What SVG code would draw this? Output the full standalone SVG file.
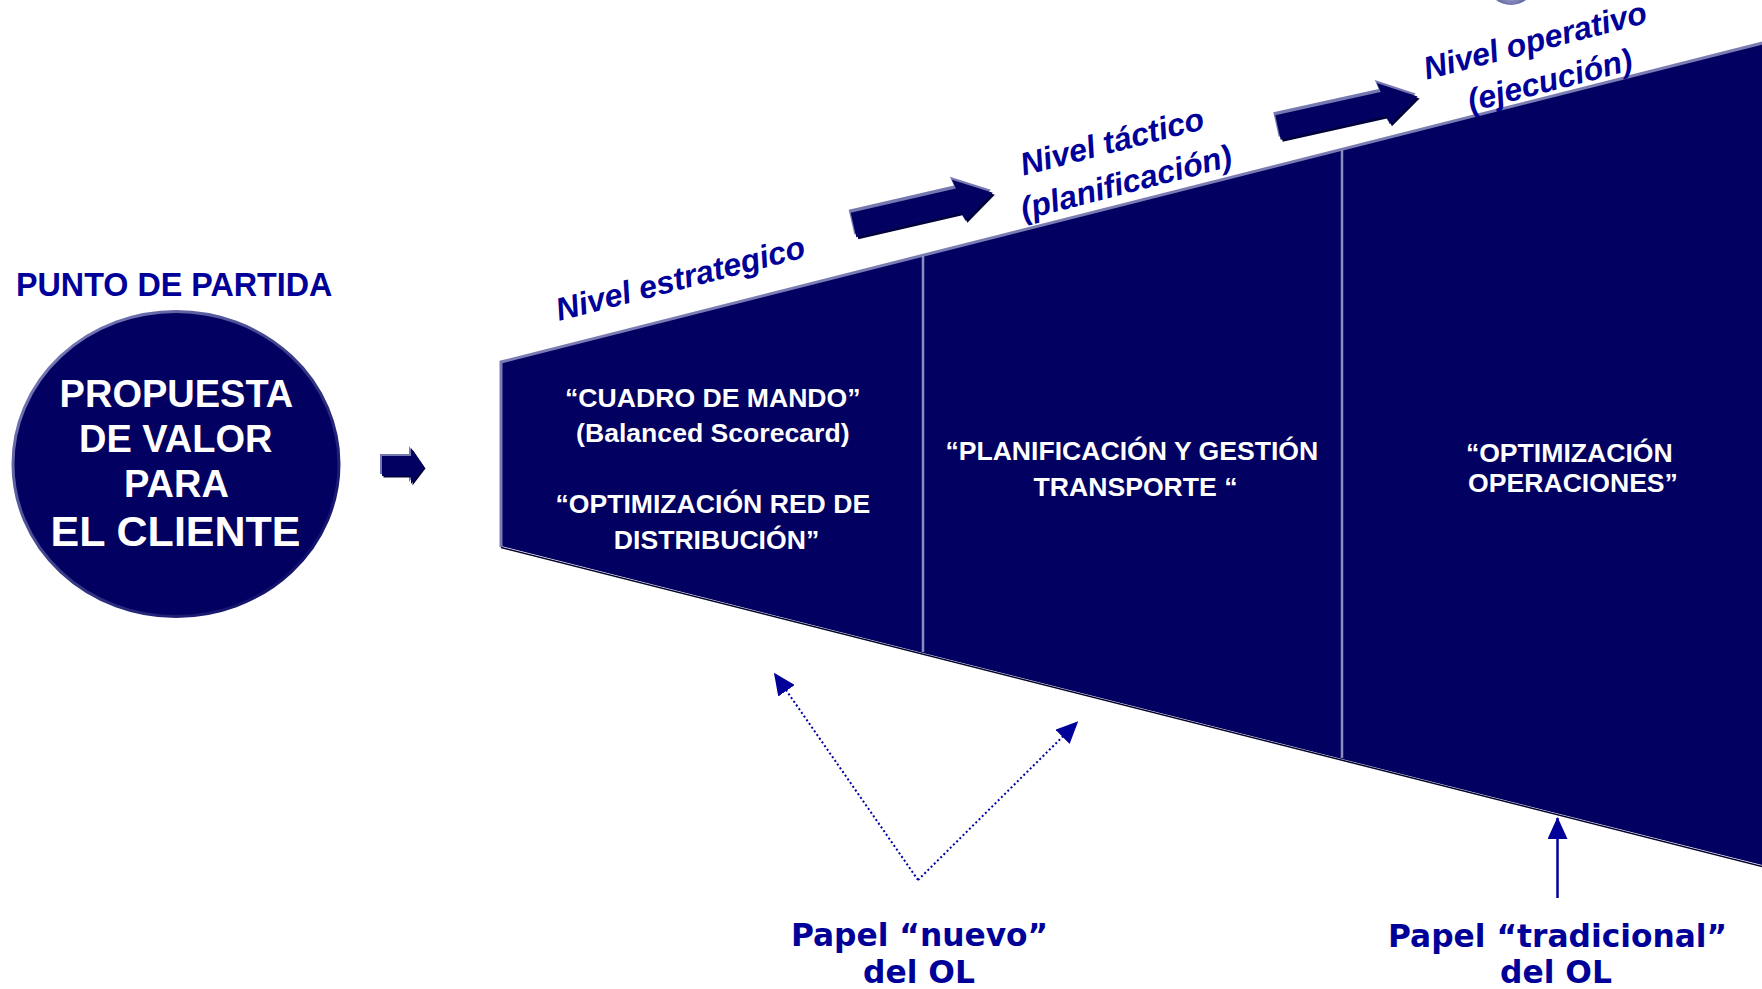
<svg xmlns="http://www.w3.org/2000/svg" xmlns:xlink="http://www.w3.org/1999/xlink" width="1762" height="989" viewBox="0 0 1762 989">
  <style>
    .navy { fill: #020060; }
    .rim { fill: #7678b2; }
    .shade { fill: #00003a; }
    .blue { fill: #000099; font-family: "Liberation Sans", Arial, sans-serif; font-weight: bold; }
    .level { font-size: 32px; font-style: italic; text-anchor: middle; }
    .white { fill: #ffffff; font-family: "Liberation Sans", Arial, sans-serif; font-weight: bold; text-anchor: middle; }
    .panel-text { font-size: 26.6px; }
    .role { fill: #000099; font-family: "DejaVu Sans", Verdana, sans-serif; font-weight: bold; font-size: 31.3px; text-anchor: middle; }
    .edge { fill: none; stroke: #7b7cb4; stroke-width: 3; }
    .divider { stroke: #8b8cc0; stroke-width: 2.5; }
    .dotted { fill: none; stroke: #0000a0; stroke-width: 2; stroke-dasharray: 2 2.5; }
    .solid { fill: none; stroke: #000099; stroke-width: 2.5; }
  </style>
  <defs>
    <!-- block arrow, tail at the origin, pointing along +x -->
    <path id="block-arrow" d="M0,-12.5 L108,-12.5 L106,-22 L143,0 L110,21 L108,12.5 L0,12.5 Z"/>
    <path id="small-arrow" d="M382,456 L411,456 L411,448 L424,467 L411,484 L411,476 L382,476 Z"/>
    <marker id="tri" markerUnits="userSpaceOnUse" markerWidth="22" markerHeight="20" refX="21" refY="10" orient="auto" viewBox="0 0 22 20">
      <path d="M0,0 L22,10 L0,20 Z" fill="#000099"/>
    </marker>
    <linearGradient id="circle-rim" x1="0" y1="0" x2="1" y2="1">
      <stop offset="0" stop-color="#8a8cc4"/>
      <stop offset="0.5" stop-color="#3a3c88"/>
      <stop offset="1" stop-color="#020060"/>
    </linearGradient>
    <radialGradient id="ball" cx="0.5" cy="0.7" r="0.6">
      <stop offset="0" stop-color="#b4b6dc"/>
      <stop offset="1" stop-color="#2a2c7a"/>
    </radialGradient>
  </defs>

  <rect width="1762" height="989" fill="#ffffff"/>

  <!-- sphere cut by the top border -->
  <ellipse cx="1511" cy="-14" rx="22" ry="19" fill="url(#ball)"/>

  <!-- starting point -->
  <g id="punto-de-partida">
    <text class="blue" x="16" y="296" font-size="32.3">PUNTO DE PARTIDA</text>
  </g>

  <g id="propuesta-valor">
    <ellipse cx="176" cy="464" rx="163" ry="152.5" class="navy" stroke="url(#circle-rim)" stroke-width="3"/>
    <text class="white" font-size="38">
      <tspan x="181" y="407">PROPUESTA</tspan>
      <tspan x="181" y="452">DE VALOR</tspan>
      <tspan x="181" y="497">PARA</tspan>
      <tspan x="175.5" y="546" font-size="43">EL CLIENTE</tspan>
    </text>
  </g>

  <g id="arrow-start">
    <use xlink:href="#small-arrow" class="rim" transform="translate(-2,-2)"/>
    <use xlink:href="#small-arrow" class="shade" transform="translate(1.5,1.5)"/>
    <use xlink:href="#small-arrow" class="navy"/>
  </g>

  <!-- widening funnel: three levels -->
  <g id="panel-estrategico">
    <polygon class="navy" points="501,362 923,255 923,653 501,546"/>
    <text class="white panel-text">
      <tspan x="716.5" y="407">“CUADRO DE MANDO”</tspan>
      <tspan x="716.5" y="442">(Balanced Scorecard)</tspan>
      <tspan x="716.5" y="513">“OPTIMIZACIÓN RED DE</tspan>
      <tspan x="716.5" y="549">DISTRIBUCIÓN”</tspan>
    </text>
  </g>

  <g id="panel-tactico">
    <polygon class="navy" points="923,255 1342,149 1342,759 923,653"/>
    <text class="white panel-text">
      <tspan x="1135.5" y="460">“PLANIFICACIÓN Y GESTIÓN</tspan>
      <tspan x="1135.5" y="496">TRANSPORTE “</tspan>
    </text>
  </g>

  <g id="panel-operativo">
    <polygon class="navy" points="1342,149 1790,36 1790,872 1342,759"/>
    <text class="white panel-text">
      <tspan x="1573" y="462">“OPTIMIZACIÓN</tspan>
      <tspan x="1573" y="492">OPERACIONES”</tspan>
    </text>
  </g>

  <g id="funnel-edges">
    <polyline class="edge" points="501,547 501,362 1790,36"/>
    <line class="divider" x1="923" y1="256" x2="923" y2="652"/>
    <line class="divider" x1="1342" y1="150" x2="1342" y2="758"/>
    <line x1="501" y1="547.5" x2="1790" y2="873.5" stroke="#00002e" stroke-width="1.5"/>
  </g>

  <!-- level labels along the top edge -->
  <g id="label-estrategico" transform="translate(683,289) rotate(-14.5)">
    <text class="blue level" x="0" y="0">Nivel estrategico</text>
  </g>

  <g id="label-tactico" transform="translate(1119,151) rotate(-14.5)">
    <text class="blue level">
      <tspan x="0" y="0">Nivel táctico</tspan>
      <tspan x="-1" y="43">(planificación)</tspan>
    </text>
  </g>

  <g id="label-operativo" transform="translate(1542,50) rotate(-14.5)">
    <text class="blue level">
      <tspan x="0" y="0">Nivel operativo</tspan>
      <tspan x="0" y="42">(ejecución)</tspan>
    </text>
  </g>

  <g id="arrow-tactico">
    <use xlink:href="#block-arrow" class="rim" transform="translate(851.5,222) rotate(-13)"/>
    <use xlink:href="#block-arrow" class="shade" transform="translate(855.5,227) rotate(-13)"/>
    <use xlink:href="#block-arrow" class="navy" transform="translate(853.5,225) rotate(-13)"/>
  </g>

  <g id="arrow-operativo">
    <use xlink:href="#block-arrow" class="rim" transform="translate(1276,124.5) rotate(-12.5)"/>
    <use xlink:href="#block-arrow" class="shade" transform="translate(1280,129.5) rotate(-12.5)"/>
    <use xlink:href="#block-arrow" class="navy" transform="translate(1278,127.5) rotate(-12.5)"/>
  </g>

  <!-- role annotations -->
  <g id="connectors">
    <line class="dotted" x1="918" y1="880" x2="774.5" y2="673.5" marker-end="url(#tri)"/>
    <line class="dotted" x1="918" y1="880" x2="1077.5" y2="722" marker-end="url(#tri)"/>
    <line class="solid" x1="1557.5" y1="898" x2="1557.5" y2="818" marker-end="url(#tri)"/>
  </g>

  <g id="papel-nuevo">
    <text class="role">
      <tspan x="925" y="946">Papel “nuevo”</tspan>
      <tspan x="919" y="983">del OL</tspan>
    </text>
  </g>

  <g id="papel-tradicional">
    <text class="role">
      <tspan x="1563" y="947">Papel “tradicional”</tspan>
      <tspan x="1556" y="983">del OL</tspan>
    </text>
  </g>
</svg>
